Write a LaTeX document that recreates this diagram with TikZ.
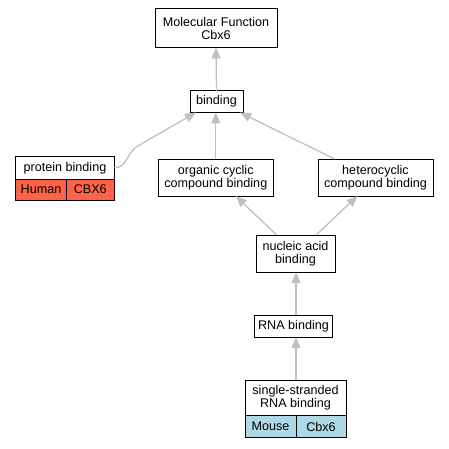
\documentclass[tikz,border=0pt]{standalone}
\usepackage{fontspec}
\setmainfont{Liberation Sans}
\usetikzlibrary{arrows.meta}
\definecolor{edgegray}{HTML}{C0C0C0}
\definecolor{humanred}{HTML}{FF6347}
\definecolor{mouseblue}{HTML}{ADD8E6}
\begin{document}
\begin{tikzpicture}[x=1pt,y=1pt,
  box/.style={draw=black,line width=1pt,fill=white,inner sep=0pt,outer sep=0pt,
    align=center,font=\fontsize{12.6}{13.3}\selectfont},
  cell/.style={box},
  edge/.style={draw=edgegray,line width=1.3pt,-{Triangle[length=11pt,width=9pt]}}]
\useasboundingbox (0,0) rectangle (449,-448);
\fill[white] (0,0) rectangle (449,-448);
% nodes
\node[box,minimum width=122pt,minimum height=38.5pt] (mf) at (216,-28.2) {Molecular Function\\Cbx6};
\node[box,minimum width=53pt,minimum height=21.5pt] (bind) at (216.5,-101.7) {binding};
\node[box,minimum width=99pt,minimum height=22.5pt] (pb) at (65,-167.8) {protein binding};
\node[cell,fill=humanred,minimum width=51.5pt,minimum height=21pt] (pbh) at (41,-189.5) {Human};
\node[cell,fill=humanred,minimum width=47.5pt,minimum height=21pt] (pbc) at (90.3,-189.5) {CBX6};
\node[box,minimum width=115pt,minimum height=37pt] (org) at (215.8,-177.5) {organic cyclic\\compound binding};
\node[box,minimum width=115pt,minimum height=37pt] (het) at (375.5,-177.5) {heterocyclic\\compound binding};
\node[box,minimum width=79pt,minimum height=37pt] (nuc) at (295.5,-253.5) {nucleic acid\\binding};
\node[box,minimum width=78pt,minimum height=22pt] (rna) at (293.5,-326) {RNA binding};
\node[box,minimum width=101pt,minimum height=36pt] (ss) at (295.5,-398) {single-stranded\\RNA binding};
\node[cell,fill=mouseblue,minimum width=51pt,minimum height=21.5pt] (ssm) at (270.5,-426.5) {Mouse};
\node[cell,fill=mouseblue,minimum width=50pt,minimum height=21.5pt] (ssc) at (321,-426.5) {Cbx6};
% helper coordinates
\coordinate (pbbend) at (136,-147);
% edges
\draw[edge] (bind.north) -- (mf.south);
\draw[edge] (org.north) -- (org.north |- bind.south);
\draw[edge] ([xshift=-41pt]het.north) -- ([xshift=-3pt]bind.south east);
\draw[edge] (pb.east) .. controls +(12,0) and +(-10,-8) .. (pbbend) -- ([xshift=6pt]bind.south west);
\draw[edge] ([xshift=-19pt]nuc.north) -- ([xshift=20pt]org.south);
\draw[edge] ([xshift=20.5pt]nuc.north) -- ([xshift=-18pt]het.south);
\draw[edge] ([xshift=0.5pt]nuc.south |- rna.north) -- ([xshift=0.5pt]nuc.south);
\draw[edge] ([xshift=0.5pt]nuc.south |- ss.north) -- ([xshift=0.5pt]nuc.south |- rna.south);
\end{tikzpicture}
\end{document}
